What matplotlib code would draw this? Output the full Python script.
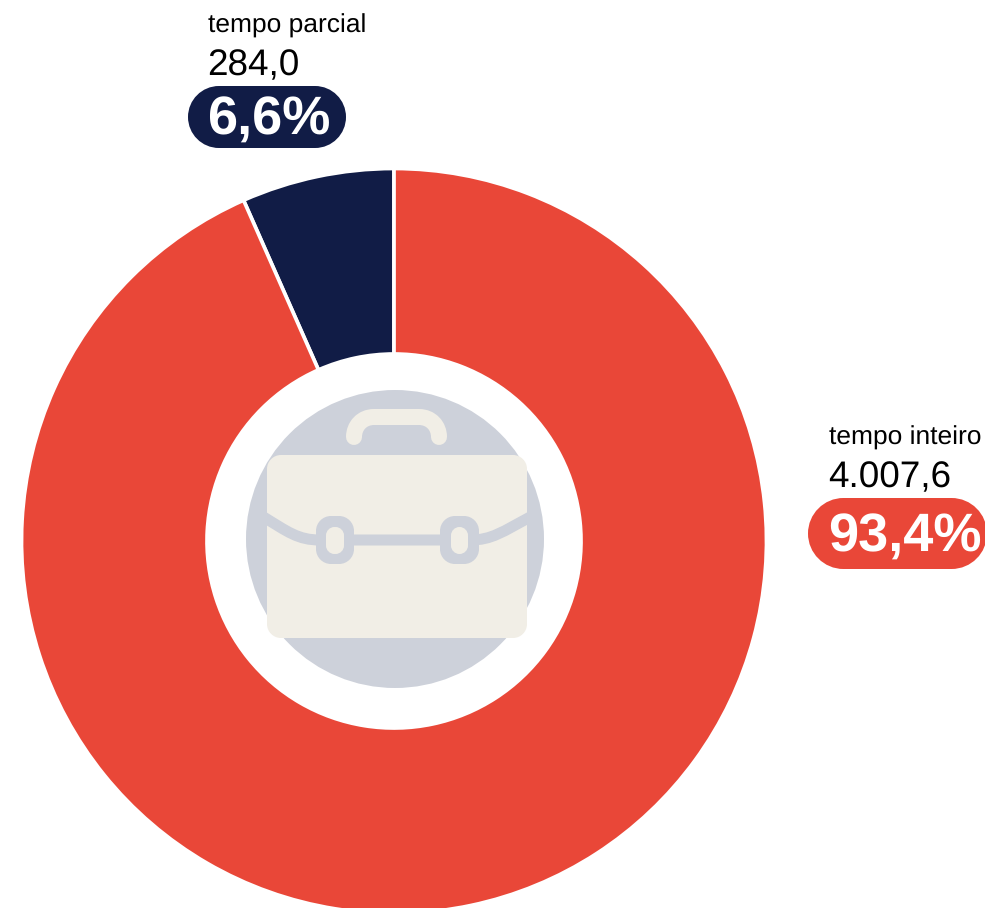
import matplotlib
matplotlib.use("Agg")
import matplotlib.pyplot as plt
from matplotlib.patches import Circle, PathPatch
from matplotlib.path import Path

categories = ["tempo parcial", "tempo inteiro"]
values = [284.0, 4007.6]
value_labels = ["284,0", "4.007,6"]
pct_labels = ["6,6%", "93,4%"]

RED, NAVY = "#e94738", "#111c46"
GREY, CREAM = "#cdd1da", "#f1eee6"
W, H = 985, 908
PX = 72 / 100  # points per pixel at dpi=100

plt.rcParams["font.family"] = ["Liberation Sans", "DejaVu Sans"]
plt.rcParams["text.hinting"] = "no_hinting"


def Y(py):
    return H - py


def rbox(ax, x0, y0, x1, y1, r, color, z):
    # rounded rect with true circular corners, image pixels with y downwards
    k = r * (1 - 0.5523)
    pts = [(x0 + r, y0), (x1 - r, y0), (x1 - k, y0), (x1, y0 + k), (x1, y0 + r),
           (x1, y1 - r), (x1, y1 - k), (x1 - k, y1), (x1 - r, y1),
           (x0 + r, y1), (x0 + k, y1), (x0, y1 - k), (x0, y1 - r),
           (x0, y0 + r), (x0, y0 + k), (x0 + k, y0), (x0 + r, y0), (x0 + r, y0)]
    codes = [Path.MOVETO, Path.LINETO] + [Path.CURVE4] * 3 + [Path.LINETO] + [Path.CURVE4] * 3 + [Path.LINETO] \
        + [Path.CURVE4] * 3 + [Path.LINETO] + [Path.CURVE4] * 3 + [Path.CLOSEPOLY]
    ax.add_patch(PathPatch(Path([(x, Y(y)) for x, y in pts], codes), fc=color, ec="none", zorder=z))


def stroke(ax, pts, codes, width, color, cap, z):
    path = Path([(x, Y(y)) for x, y in pts], codes)
    ax.add_patch(PathPatch(path, fill=False, ec=color, lw=width * PX, capstyle=cap, joinstyle="round", zorder=z))


def label(ax, i, x, pill, base):
    ax.text(x, Y(base[0]), categories[i], fontsize=19, color="black", va="baseline")
    ax.text(x - 1, Y(base[1]), value_labels[i], fontsize=26.6, color="black", va="baseline")
    x0, y0, x1, y1 = pill
    rbox(ax, x0, y0, x1, y1, (y1 - y0) / 2, [NAVY, RED][i], 5)
    ax.text(x - 1, Y(base[2]), pct_labels[i], fontsize=39, fontweight="bold", color="white",
            va="baseline", zorder=6)


fig = plt.figure(figsize=(W / 100, H / 100), dpi=100)
ax = fig.add_axes([0, 0, 1, 1])
ax.pie(values, colors=[NAVY, RED], startangle=90, counterclock=True, center=(394, Y(541)), radius=372.5,
       wedgeprops=dict(width=185.5, edgecolor="white", linewidth=3.7 * PX))
ax.set_xlim(0, W); ax.set_ylim(0, H); ax.set_aspect("equal"); ax.axis("off")

# briefcase icon in the hole
ax.add_patch(Circle((395, Y(539)), 149, fc=GREY, ec="none", zorder=2))
M, L, C = Path.MOVETO, Path.LINETO, Path.CURVE4
stroke(ax, [(354, 437), (354, 426), (362, 417), (374, 417), (419, 417), (431, 417), (439, 426), (439, 437)],
       [M, C, C, C, L, C, C, C], 16, CREAM, "round", 3)
rbox(ax, 267, 455, 527, 638, 14, CREAM, 3)
stroke(ax, [(262, 516), (288, 532), (298, 540), (320, 540), (470, 540), (492, 540), (502, 532), (532, 516)],
       [M, C, C, C, L, C, C, C], 11, GREY, "butt", 4)
for x0, x1, ix0, ix1 in [(316, 354, 326, 344), (440, 479, 451, 468)]:
    rbox(ax, x0, 516, x1, 564, 15, GREY, 4)
    rbox(ax, ix0, 527, ix1, 554, 8.5, CREAM, 5)

label(ax, 0, 208, (188, 86, 346, 148), (33, 75, 135))
label(ax, 1, 829, (808, 498, 987, 569), (445, 487, 552))

fig.savefig("out.png", dpi=100)
plt.close(fig)
